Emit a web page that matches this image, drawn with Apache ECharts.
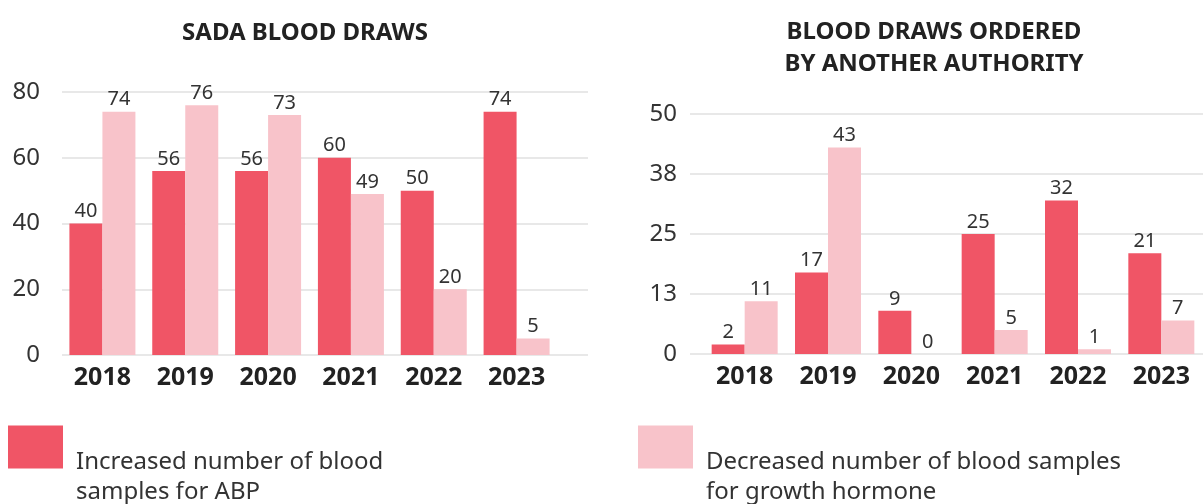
<!doctype html>
<html lang="en">
<head>
  <meta charset="UTF-8">
  <title>Blood draws</title>
  <style>
    html, body { margin: 0; padding: 0; background: #fff; }
  </style>
</head>
<body>
<div id="main" style="width: 1203px;height: 504px"></div>
<script src="https://cdn.jsdelivr.net/npm/echarts@6/dist/echarts.min.js"></script>
<script>
    var years = ['2018', '2019', '2020', '2021', '2022', '2023'];
    var sadaIncreased = [40, 56, 56, 60, 50, 74];
    var sadaDecreased = [74, 76, 73, 49, 20, 5];
    var otherIncreased = [2, 17, 9, 25, 32, 21];
    var otherDecreased = [11, 43, 0, 5, 1, 7];
    var sadaTicks = [0, 20, 40, 60, 80];
    var otherTicks = [0, 12.5, 25, 37.5, 50];
    var otherTickLabels = ['0', '13', '25', '38', '50'];

    var nameUp = 'Increased number of blood samples for ABP';
    var nameDown = 'Decreased number of blood samples for growth hormone';
    var red = '#f05566';
    var pink = '#f8c3ca';
    var font = 'Noto Sans';

    var myCharts = echarts.init(document.querySelector('#main'));

    function barSeries(name, data, color, idx) {
        return {
            name: name,
            type: 'bar',
            xAxisIndex: idx,
            yAxisIndex: idx,
            data: data,
            barWidth: 33,
            barGap: '0%',
            itemStyle: {color: color},
            label: {
                show: true,
                position: 'top',
                distance: 2,
                color: '#333',
                fontFamily: font,
                fontSize: 20
            }
        };
    }

    var catAxis = function (gridIndex) {
        return {
            type: 'category',
            gridIndex: gridIndex,
            data: years,
            axisLine: {show: false},
            axisTick: {show: false},
            axisLabel: {
                color: '#222',
                fontFamily: font,
                fontWeight: 'bold',
                fontSize: 25,
                margin: 10
            }
        };
    };

    // legend text pushed below the icon centre with an empty first line
    var legendRich = {
        s: {lineHeight: 60, fontSize: 24},
        t: {lineHeight: 30, fontSize: 24, color: '#333', fontFamily: font, padding: [0, 0, 0, 8]}
    };

    myCharts.setOption({
        animation: false,
        title: [
            {
                text: 'SADA BLOOD DRAWS',
                left: 300,
                top: 12,
                textAlign: 'center',
                textStyle: {fontFamily: font, fontWeight: 'bold', fontSize: 24, color: '#222', lineHeight: 32}
            },
            {
                text: 'BLOOD DRAWS ORDERED\nBY ANOTHER AUTHORITY',
                left: 929,
                top: 11,
                textAlign: 'center',
                textStyle: {fontFamily: font, fontWeight: 'bold', fontSize: 24, color: '#222', lineHeight: 32}
            }
        ],
        legend: [
            {
                data: [nameUp],
                left: 8,
                top: 405,
                padding: 0,
                icon: 'rect',
                itemWidth: 55,
                itemHeight: 43,
                selectedMode: false,
                formatter: function () { return '{s|}\n{t|Increased number of blood}\n{t|samples for ABP}'; },
                textStyle: {fontFamily: font, fontSize: 24, color: '#333', rich: legendRich}
            },
            {
                data: [nameDown],
                left: 638,
                top: 405,
                padding: 0,
                icon: 'rect',
                itemWidth: 55,
                itemHeight: 43,
                selectedMode: false,
                formatter: function () { return '{s|}\n{t|Decreased number of blood samples}\n{t|for growth hormone}'; },
                textStyle: {fontFamily: font, fontSize: 24, color: '#333', rich: legendRich}
            }
        ],
        grid: [
            {left: 61, right: 645, top: 92, bottom: 149},
            {left: 703, right: -7, top: 114, bottom: 150},
            {left: 62, right: 615, top: 92, bottom: 149},
            {left: 690, right: 0, top: 114, bottom: 150}
        ],
        xAxis: [
            catAxis(0),
            catAxis(1),
            {type: 'value', gridIndex: 2, show: false, min: 0, max: 1},
            {type: 'value', gridIndex: 3, show: false, min: 0, max: 1}
        ],
        yAxis: [
            {type: 'value', gridIndex: 0, min: sadaTicks[0], max: sadaTicks[sadaTicks.length - 1], show: false},
            {type: 'value', gridIndex: 1, min: otherTicks[0], max: otherTicks[otherTicks.length - 1], show: false},
            {
                type: 'value',
                gridIndex: 2,
                min: sadaTicks[0],
                max: sadaTicks[sadaTicks.length - 1],
                interval: sadaTicks[1] - sadaTicks[0],
                axisLine: {show: false},
                axisTick: {show: false},
                axisLabel: {color: '#333', fontFamily: font, fontSize: 24, margin: 22},
                splitLine: {lineStyle: {color: '#e8e8e8', width: 2}}
            },
            {
                type: 'value',
                gridIndex: 3,
                min: otherTicks[0],
                max: otherTicks[otherTicks.length - 1],
                interval: otherTicks[1] - otherTicks[0],
                axisLine: {show: false},
                axisTick: {show: false},
                axisLabel: {
                    color: '#333', fontFamily: font, fontSize: 24, margin: 13,
                    formatter: function (v) { return otherTickLabels[otherTicks.indexOf(v)]; }
                },
                splitLine: {lineStyle: {color: '#e8e8e8', width: 2}}
            }
        ],
        series: [
            barSeries(nameUp, sadaIncreased, red, 0),
            barSeries(nameDown, sadaDecreased, pink, 0),
            barSeries(nameUp, otherIncreased, red, 1),
            barSeries(nameDown, otherDecreased, pink, 1)
        ]
    });
</script>
</body>
</html>
